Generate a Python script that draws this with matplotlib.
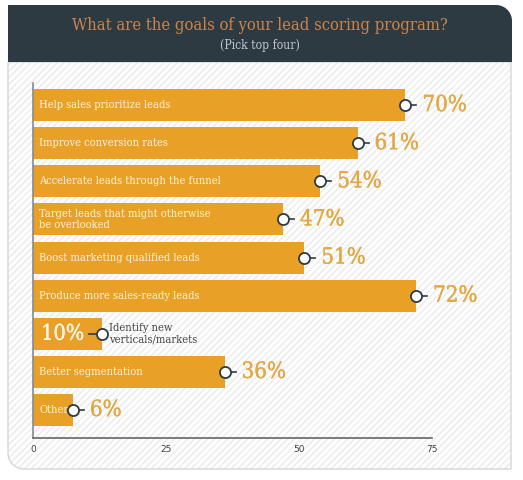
import numpy as np
import matplotlib.pyplot as plt
import matplotlib.patheffects as pe
from matplotlib.path import Path
from matplotlib.patches import PathPatch

# data
goals = ["Help sales prioritize leads", "Improve conversion rates",
         "Accelerate leads through the funnel",
         "Target leads that might otherwise\nbe overlooked",
         "Boost marketing qualified leads", "Produce more sales-ready leads",
         "Identify new\nverticals/markets", "Better segmentation", "Other"]
values = [70, 61, 54, 47, 51, 72, 13, 36, 7.5]   # drawn bar lengths
pct_labels = ["70%", "61%", "54%", "47%", "51%", "72%", "10%", "36%", "6%"]
xticks = [0, 25, 50, 75]

title = "What are the goals of your lead scoring program?"
subtitle = "(Pick top four)"

BAR = "#E8A126"
PCT = "#E3A846"
DARK = "#2E3A42"
SERIF = dict(family="DejaVu Serif", stretch="condensed")


def bold(color, w):
    return [pe.withStroke(linewidth=w, foreground=color)]


W, H = 523, 480
fig = plt.figure(figsize=(W / 100, H / 100), dpi=100)

# background axes in pixel coordinates
bg = fig.add_axes([0, 0, 1, 1], zorder=0)
bg.set_xlim(0, W)
bg.set_ylim(H, 0)
bg.axis("off")


def rounded_rect(x0, y0, x1, y1, r, corner):
    # rectangle (pixel coords, y down) with one rounded corner
    pts = []
    corners = {"tl": (x0, y0), "tr": (x1, y0), "br": (x1, y1), "bl": (x0, y1)}
    centers = {"tl": (x0 + r, y0 + r, 180, 270), "tr": (x1 - r, y0 + r, 270, 360),
               "br": (x1 - r, y1 - r, 0, 90), "bl": (x0 + r, y1 - r, 90, 180)}
    for c in ["tl", "tr", "br", "bl"]:
        if c == corner:
            cx, cy, a0, a1 = centers[c]
            t = np.radians(np.linspace(a0, a1, 20))
            pts += list(zip(cx + r * np.cos(t), cy + r * np.sin(t)))
        else:
            pts.append(corners[c])
    pts.append(pts[0])
    return Path(pts, closed=True)


panel = rounded_rect(8, 62, 511, 469, 16, "bl")
bg.add_patch(PathPatch(panel, facecolor="white", edgecolor="none"))
bg.add_patch(PathPatch(panel, facecolor="none", edgecolor="#EAEAEA",
                       hatch="/////", linewidth=0))
bg.add_patch(PathPatch(panel, facecolor="none", edgecolor="#D6D6D6", linewidth=1))
header = rounded_rect(8, 5, 512, 62, 16, "tr")
bg.add_patch(PathPatch(header, facecolor=DARK, edgecolor="none"))
bg.text(260, 25, title, color="#C98550", fontsize=11.9, ha="center",
        va="center", **SERIF)
bg.text(260, 45, subtitle, color="#BFC4C8", fontsize=8.7, ha="center",
        va="center", **SERIF)

# main chart
ax = fig.add_axes([33 / W, 1 - 438 / H, 399 / W, 355 / H], zorder=1)
ax.patch.set_alpha(0)
y = np.arange(len(goals))
ax.barh(y, values, height=0.84, color=BAR, zorder=2)
ax.set_xlim(0, 75)
ax.set_ylim(8.735, -0.58)
px = 75 / 399  # data units per pixel

for i, (g, v, p) in enumerate(zip(goals, values, pct_labels)):
    if i == 6:
        # small bar: value inside, label outside
        ax.plot([v - 13 * px, v], [i, i], color=DARK, lw=1.2, zorder=3)
        ax.text(v - 18 * px, i, p, color="#FFF6E6", fontsize=15.5, ha="right",
                va="center", zorder=4, path_effects=bold("#FFF6E6", 0.25), **SERIF)
        ax.text(v + 7 * px, i, g, color="#444444", fontsize=8, ha="left",
                va="center", linespacing=1.1, zorder=4, **SERIF)
    else:
        ax.plot([v, v + 11 * px], [i, i], color=DARK, lw=1.2, zorder=3)
        ax.text(6 * px, i, g, color="#FFF3DC", fontsize=7.9, ha="left",
                va="center", linespacing=1.15, zorder=4, **SERIF)
        ax.text(v + 17 * px, i, p, color=PCT, fontsize=16, ha="left",
                va="center", zorder=4, path_effects=bold(PCT, 0.25), **SERIF)
    ax.plot(v, i, "o", ms=8, mfc="white", mec=DARK, mew=1.3, zorder=5)

ax.set_xticks(xticks)
ax.set_xticklabels([str(t) for t in xticks], fontsize=6.5, color="#444444")
ax.set_yticks([])
ax.tick_params(axis="x", length=0, pad=5)
for s in ["top", "right"]:
    ax.spines[s].set_visible(False)
ax.spines["left"].set_color("#8A8A8A")
ax.spines["bottom"].set_color("#666666")
ax.spines["left"].set_linewidth(1.2)
ax.spines["bottom"].set_linewidth(1.2)

fig.savefig("out.png", dpi=100)
